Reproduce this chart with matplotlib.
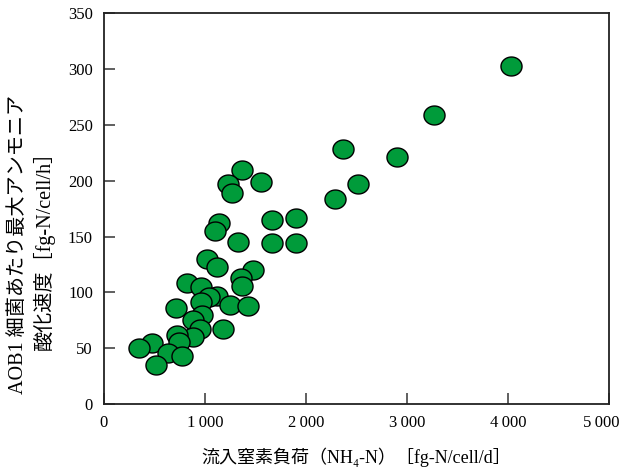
import matplotlib
matplotlib.use('Agg')
import matplotlib.pyplot as plt
import matplotlib.transforms as mtransforms
import numpy as np
from matplotlib.path import Path

plt.rcParams['font.family'] = ['Liberation Serif', 'Noto Sans CJK JP', 'DejaVu Sans']

# inflow ammonium load [fg-N/cell/d] vs max ammonia oxidation rate [fg-N/cell/h]
load = [4025, 3265, 2365, 2905, 2515, 2285, 1905, 1665, 1905, 1665,
        1365, 1225, 1555, 1265, 1135, 1095, 1325, 1015, 1115, 1475,
        1355, 1365, 825, 965, 1115, 1035, 965, 1245, 1425, 715,
        975, 885, 955, 1175, 885, 725, 745, 475, 345, 635,
        775, 515]
rate = [303, 259, 228, 221, 197, 184, 167, 165, 144, 144,
        210, 197, 199, 189, 162, 155, 145, 130, 123, 120,
        113, 106, 108, 105, 97, 96, 91, 89, 87.5, 86,
        80, 75, 67, 67, 60, 62, 56, 55, 50, 46,
        43, 35]

xticks = [0, 1000, 2000, 3000, 4000, 5000]
xticklabels = ['0', '1\u2009000', '2\u2009000', '3\u2009000', '4\u2009000', '5\u2009000']
yticks = [0, 50, 100, 150, 200, 250, 300, 350]

# slightly wide ellipse marker
t = np.linspace(0, 2 * np.pi, 60)
ell = Path(np.column_stack([np.cos(t), 0.9 * np.sin(t)]), closed=True)

fig = plt.figure(figsize=(6.19, 4.71), dpi=100)
ax = fig.add_axes([0.168, 0.142, 0.816, 0.830])
ax.scatter(load, rate, s=230, marker=ell, facecolor='#009B3A', edgecolor='black',
           linewidth=1.0, zorder=3)

ax.set_xlim(0, 5000)
ax.set_ylim(0, 350)
ax.set_xticks(xticks)
ax.set_xticklabels(xticklabels)
ax.set_yticks(yticks)
for s in ax.spines.values():
    s.set_linewidth(1.3)
    s.set_color('#222222')
ax.tick_params(direction='in', length=8, width=1.2, labelsize=12, colors='#444444',
               labelcolor='black', pad=8)
# keep the last x label inside the figure
lab = ax.get_xticklabels()[-1]
lab.set_transform(lab.get_transform() + mtransforms.ScaledTranslation(-8 / 100, 0, fig.dpi_scale_trans))

ax.set_xlabel('流入窒素負荷（NH\u2084-N）［fg-N/cell/d］', fontsize=13, labelpad=12)
fig.text(0.052, 0.48, 'AOB1 細菌あたり最大アンモニア\n酸化速度［fg-N/cell/h］',
         rotation=90, ha='center', va='center', multialignment='center',
         fontsize=14.5, linespacing=1.3)

fig.savefig('out.png', dpi=100)
